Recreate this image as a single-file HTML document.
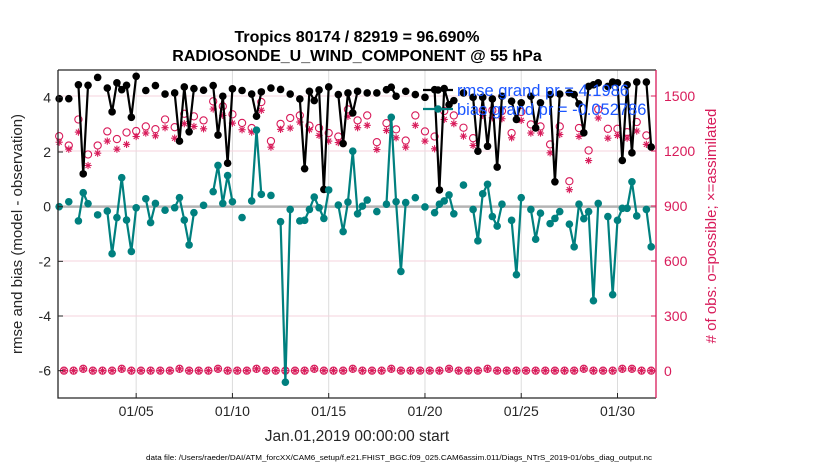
<!DOCTYPE html>
<html><head><meta charset="utf-8"><style>
html,body{margin:0;padding:0;background:#fff;}
svg{display:block;font-family:"Liberation Sans",Arial,sans-serif;}
</style></head><body>
<svg id="chart" width="830" height="470" viewBox="0 0 830 470" xmlns="http://www.w3.org/2000/svg">
<text x="357" y="42" text-anchor="middle" font-size="16" font-weight="bold" fill="#000">Tropics 80174 / 82919 = 96.690%</text>
<text x="357" y="61" text-anchor="middle" font-size="16" font-weight="bold" fill="#000">RADIOSONDE_U_WIND_COMPONENT @ 55 hPa</text>
<g id="grid"></g>
<g id="series"></g>
<g id="axes"></g>
<text transform="translate(22,234) rotate(-90)" text-anchor="middle" font-size="15" fill="#262626">rmse and bias (model - observation)</text>
<text transform="translate(716,226) rotate(-90)" text-anchor="middle" font-size="15" fill="#d81b5a"># of obs: o=possible; ×=assimilated</text>
<text x="357" y="441" text-anchor="middle" font-size="15.5" fill="#262626">Jan.01,2019 00:00:00 start</text>
<text x="399" y="460" text-anchor="middle" font-size="7.5" textLength="506" lengthAdjust="spacingAndGlyphs" fill="#000">data file: /Users/raeder/DAI/ATM_forcXX/CAM6_setup/f.e21.FHIST_BGC.f09_025.CAM6assim.011/Diags_NTrS_2019-01/obs_diag_output.nc</text>
<g id="legend"></g>
</svg>
<script>
const rmse = [3.95,null,3.95,null,4.46,1.20,4.44,null,4.73,null,
4.34,3.47,4.53,4.28,4.44,3.27,4.77,null,4.25,null,
4.43,null,4.12,null,4.16,2.40,4.38,2.74,4.32,null,
4.26,null,4.43,2.62,4.04,1.59,4.31,null,4.25,null,
4.12,3.31,4.20,null,4.34,null,4.29,null,4.12,null,
3.94,1.39,4.22,3.88,4.27,0.63,4.38,null,4.10,2.31,
4.16,3.43,4.22,null,4.16,null,4.16,null,4.28,4.37,
4.04,null,4.22,null,4.10,null,4.00,null,4.28,0.61,
4.32,3.73,3.88,null,4.16,null,4.00,2.03,4.00,2.21,
3.94,1.45,4.04,null,3.86,3.19,3.80,null,4.04,2.88,
3.80,null,4.10,0.91,4.12,null,4.16,4.10,3.76,2.70,
4.40,4.46,4.53,null,4.40,4.56,4.53,1.69,4.46,1.97,
4.56,null,4.56,2.18];
const bias = [0,null,0.18,null,-0.52,0.51,0.11,null,-0.30,null,
-0.16,-1.72,-0.40,1.06,-0.49,-1.64,-0.04,null,0.29,-0.58,
0.12,null,-0.13,null,-0.04,0.33,-0.49,-1.40,-0.22,null,
0.05,null,0.55,1.51,0.12,1.14,0.18,null,-0.40,null,
0.21,2.80,0.45,null,0.41,null,-0.55,-6.42,-0.10,null,
-0.52,-0.50,-0.10,0.35,-0.04,-0.43,0.61,null,0.06,-0.91,
0.17,2.03,-0.26,0.02,0.24,null,-0.18,null,0.09,3.27,
0.18,-2.37,0.15,null,0.33,null,-0.01,null,-0.22,0.09,
0.21,0.43,-0.26,null,0.79,null,-0.10,-1.25,0.47,0.82,
-0.36,-0.71,0.09,null,-0.50,-2.49,0.33,null,-0.10,-1.19,
-0.24,null,-0.62,-0.43,-0.18,null,-0.64,-1.47,0.09,-0.44,
-0.18,-3.44,0.12,null,-0.36,-3.22,-0.50,-0.06,-0.06,0.91,
-0.34,null,-0.10,-1.47];
const nPossible = [1281,2,1230,2,1372,12,1181,2,1230,2,
1307,2,1265,12,1301,2,1309,2,1334,2,
1319,2,1372,2,1330,12,1403,2,1389,2,
1367,2,1471,12,1444,2,1400,2,1353,2,
1325,12,1467,2,1254,2,1348,2,1380,2,
1394,2,1338,12,1325,2,1298,2,1279,2,
1427,12,1367,2,1394,2,1248,2,1352,12,
1318,2,1257,2,1394,2,1307,2,1279,2,
1418,12,1394,2,1327,2,1270,2,1422,12,
1422,2,1418,2,1298,2,1413,2,1345,2,
1334,2,1236,2,1334,2,1035,2,1325,12,
1203,2,1427,2,1321,2,1321,12,1303,12,
1358,2,1285,2];
const nAssim = [1248,2,1210,2,1303,12,1121,2,1188,2,
1254,2,1210,12,1236,2,1279,2,1298,2,
1283,2,1327,2,1270,12,1349,2,1334,2,
1321,2,1429,12,1394,2,1352,2,1316,2,
1303,12,1422,2,1221,2,1318,2,1325,2,
1358,2,1316,12,1285,2,1254,2,1246,2,
1389,12,1327,2,1340,2,1208,2,1312,12,
1272,2,1221,2,1340,2,1254,2,1212,2,
1372,12,1349,2,1281,2,1230,2,1394,12,
1381,2,1376,2,1272,2,1367,2,1298,2,
1298,2,1190,2,1290,2,989,2,1279,12,
1148,2,1380,2,1270,2,1285,12,1270,12,
1309,2,1236,2];
const startDay = 1;
const stepDays = 0.25;
const xTickDays = [5,10,15,20,25,30];
const xTickLabels = ["01/05","01/10","01/15","01/20","01/25","01/30"];
const yLeftTicks = [4,2,0,-2,-4,-6];
const yRightTicks = [0,300,600,900,1200,1500];

const NS = "http://www.w3.org/2000/svg";
const PL = 58, PR = 656, PT = 70, PB = 398;
const T0 = 0.94, T1 = 32.0;
const YL0 = -7, YL1 = 5;
const YR0 = -147.3, YR1 = 1641.8;
const RED = "#d81b5a", TEAL = "#00807f";
function xs(t){ return PL + (t - T0) / (T1 - T0) * (PR - PL); }
function yl(v){ return PB - (v - YL0) / (YL1 - YL0) * (PB - PT); }
function yr(v){ return PB - (v - YR0) / (YR1 - YR0) * (PB - PT); }
function tOf(i){ return startDay + i * stepDays; }
function mk(tag, attrs, parent){
  const e = document.createElementNS(NS, tag);
  for (const k in attrs) e.setAttribute(k, attrs[k]);
  parent.appendChild(e);
  return e;
}
const grid = document.getElementById('grid');
const series = document.getElementById('series');
const axes = document.getElementById('axes');
const legend = document.getElementById('legend');

xTickDays.forEach(function(d){
  const g = mk('line', {x1:xs(d), x2:xs(d), y1:PT, y2:PB, stroke:'#dcdcdc', 'stroke-width':1}, grid);
  
  
});
yRightTicks.forEach(function(c){
  const g = mk('line', {x1:PL, x2:PR, y1:yr(c), y2:yr(c), stroke:'#f6d3de', 'stroke-width':1}, grid);
  
  
});
const zl = mk('line', {x1:PL, x2:PR, y1:yl(0), y2:yl(0), stroke:'#b4b4b4', 'stroke-width':2.5}, grid);



function star(cx, cy, parent){
  const g = mk('g', {stroke:RED, 'stroke-width':1.1}, parent);
  
  
  const r = 3.6;
  mk('line', {x1:cx-r, x2:cx+r, y1:cy, y2:cy}, g);
  mk('line', {x1:cx, x2:cx, y1:cy-r, y2:cy+r}, g);
  mk('line', {x1:cx-r*0.7, x2:cx+r*0.7, y1:cy-r*0.7, y2:cy+r*0.7}, g);
  mk('line', {x1:cx-r*0.7, x2:cx+r*0.7, y1:cy+r*0.7, y2:cy-r*0.7}, g);
}
nPossible.forEach(function(c, i){
  if (c === null) return;
  const p = mk('circle', {cx:xs(tOf(i)), cy:yr(c), r:3.6, fill:'none', stroke:RED, 'stroke-width':1.1}, series);
  
  
});
nAssim.forEach(function(c, i){
  if (c === null) return;
  star(xs(tOf(i)), yr(c), series);
});

function drawSeries(vals, color, name){
  let d = '', pen = false;
  vals.forEach(function(v, i){
    if (v === null) { pen = false; return; }
    d += (pen ? 'L' : 'M') + xs(tOf(i)).toFixed(2) + ' ' + yl(v).toFixed(2);
    pen = true;
  });
  const path = mk('path', {d:d, fill:'none', stroke:color, 'stroke-width':2.2, 'stroke-linejoin':'round'}, series);
  
  
  vals.forEach(function(v, i){
    if (v === null) return;
    const c = mk('circle', {cx:xs(tOf(i)), cy:yl(v), r:3.8, fill:color}, series);
    
    
  });
}
drawSeries(rmse, '#000', 'rmse');
drawSeries(bias, TEAL, 'bias');

const fr = mk('path', {d:'M'+PL+' '+PT+'L'+PR+' '+PT+'M'+PL+' '+PT+'L'+PL+' '+PB+'L'+PR+' '+PB, fill:'none', stroke:'#262626', 'stroke-width':1.3}, axes);


const ra = mk('line', {x1:PR, x2:PR, y1:PT, y2:PB, stroke:RED, 'stroke-width':1.3}, axes);



xTickDays.forEach(function(d, i){
  const x = xs(d);
  const tk = mk('line', {x1:x, x2:x, y1:PB, y2:PB-5, stroke:'#262626', 'stroke-width':1}, axes);
  
  
  const t = mk('text', {x:x, y:416, 'text-anchor':'middle', 'font-size':14, fill:'#262626'}, axes);
  t.textContent = xTickLabels[i];
  
  
});
yLeftTicks.forEach(function(v){
  const y = yl(v);
  const tk = mk('line', {x1:PL, x2:PL+5, y1:y, y2:y, stroke:'#262626', 'stroke-width':1}, axes);
  
  
  const t = mk('text', {x:51, y:y+5, 'text-anchor':'end', 'font-size':14, fill:'#262626'}, axes);
  t.textContent = v;
  
  
});
yRightTicks.forEach(function(c){
  const y = yr(c);
  const tk = mk('line', {x1:PR, x2:PR-5, y1:y, y2:y, stroke:RED, 'stroke-width':1}, axes);
  
  
  const t = mk('text', {x:664, y:y+5, 'text-anchor':'start', 'font-size':14, fill:RED}, axes);
  t.textContent = c;
  
  
});

[['#000', 90, 'rmse grand pr = 4.1986', 'legend-entry-rmse'], [TEAL, 109, 'bias grand pr = -0.052786', 'legend-entry-bias']].forEach(function(e){
  const g = mk('g', {}, legend);
  
  
  mk('line', {x1:423, x2:453, y1:e[1], y2:e[1], stroke:e[0], 'stroke-width':2.2}, g);
  mk('circle', {cx:438, cy:e[1], r:3.8, fill:e[0]}, g);
  const t = mk('text', {x:457, y:e[1]+6, 'font-size':16.5, fill:'#1a55ff'}, g);
  t.textContent = e[2];
});
</script>
</body></html>
